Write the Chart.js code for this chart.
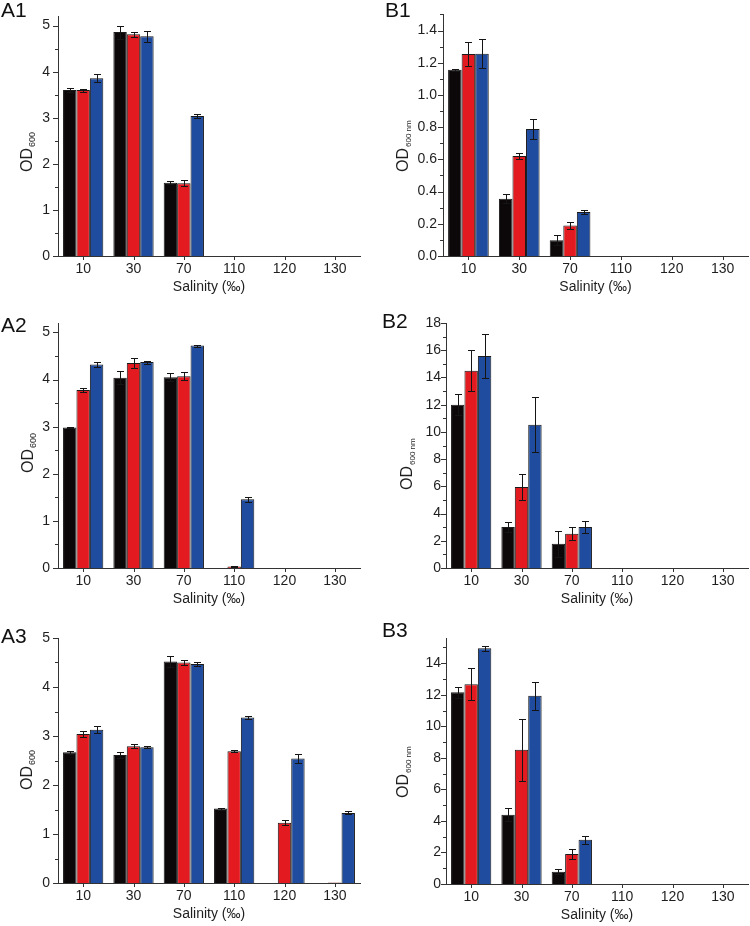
<!DOCTYPE html>
<html><head><meta charset="utf-8">
<script src="https://cdn.jsdelivr.net/npm/chart.js@4/dist/chart.umd.min.js"></script>
<style>
html,body{margin:0;padding:0;background:#fff;}
#page{position:relative;width:750px;height:926px;overflow:hidden;font-family:"Liberation Sans",Arial,sans-serif;}
.panel{position:absolute;}
.panel canvas{display:block;}
.lbl{position:absolute;font-size:21px;line-height:21px;color:#111;white-space:nowrap;}
</style></head><body>
<div id="page">
  <div class="lbl" style="left:1px;top:-1px">A1</div>
  <div class="lbl" style="left:385px;top:-1px">B1</div>
  <div class="lbl" style="left:1px;top:314px">A2</div>
  <div class="lbl" style="left:382px;top:310px">B2</div>
  <div class="lbl" style="left:1px;top:625px">A3</div>
  <div class="lbl" style="left:382px;top:619px">B3</div>
</div>
<script>
// ---- categories (x tick labels) ----
const salinity = ['10', '30', '70', '110', '120', '130'];
const seriesNames = ['Series 1', 'Series 2', 'Series 3'];

// ---- A1 ----
const a1Black = [3.60, 4.86, 1.59, 0, 0, 0];
const a1BlackErr = [0.05, 0.14, 0.03, 0, 0, 0];
const a1Red = [3.60, 4.81, 1.58, 0, 0, 0];
const a1RedErr = [0.03, 0.06, 0.06, 0, 0, 0];
const a1Blue = [3.86, 4.77, 3.04, 0, 0, 0];
const a1BlueErr = [0.08, 0.12, 0.04, 0, 0, 0];

// ---- B1 ----
const b1Black = [1.156, 0.356, 0.098, 0, 0, 0];
const b1BlackErr = [0.005, 0.027, 0.03, 0, 0, 0];
const b1Red = [1.254, 0.621, 0.189, 0, 0, 0];
const b1RedErr = [0.075, 0.017, 0.024, 0, 0, 0];
const b1Blue = [1.256, 0.788, 0.273, 0, 0, 0];
const b1BlueErr = [0.09, 0.063, 0.012, 0, 0, 0];

// ---- A2 ----
const a2Black = [2.98, 4.04, 4.05, 0, 0, 0];
const a2BlackErr = [0.01, 0.14, 0.09, 0, 0, 0];
const a2Red = [3.78, 4.35, 4.07, 0.03, 0, 0];
const a2RedErr = [0.04, 0.10, 0.08, 0.01, 0, 0];
const a2Blue = [4.32, 4.37, 4.72, 1.46, 0, 0];
const a2BlueErr = [0.06, 0.03, 0.02, 0.05, 0, 0];

// ---- B2 ----
const b2Black = [12.0, 3.01, 1.79, 0, 0, 0];
const b2BlackErr = [0.78, 0.34, 0.95, 0, 0, 0];
const b2Red = [14.5, 5.95, 2.52, 0, 0, 0];
const b2RedErr = [1.5, 0.98, 0.49, 0, 0, 0];
const b2Blue = [15.58, 10.53, 3.01, 0, 0, 0];
const b2BlueErr = [1.62, 2.03, 0.47, 0, 0, 0];

// ---- A3 ----
const a3Black = [2.67, 2.61, 4.52, 1.52, 0, 0];
const a3BlackErr = [0.03, 0.06, 0.12, 0.02, 0, 0];
const a3Red = [3.04, 2.79, 4.50, 2.69, 1.23, 0.01];
const a3RedErr = [0.07, 0.04, 0.05, 0.02, 0.05, 0];
const a3Blue = [3.13, 2.77, 4.47, 3.38, 2.54, 1.43];
const a3BlueErr = [0.07, 0.02, 0.05, 0.03, 0.09, 0.03];

// ---- B3 ----
const b3Black = [12.16, 4.39, 0.78, 0, 0, 0];
const b3BlackErr = [0.36, 0.42, 0.14, 0, 0, 0];
const b3Red = [12.67, 8.51, 1.90, 0, 0, 0];
const b3RedErr = [1.0, 1.97, 0.33, 0, 0, 0];
const b3Blue = [14.95, 11.93, 2.81, 0, 0, 0];
const b3BlueErr = [0.15, 0.88, 0.25, 0, 0, 0];

// ---- axis ranges ----
const yAxisA1 = {max: 5.2, step: 1, minor: 0.5, dec: 0};
const yAxisB1 = {max: 1.5, step: 0.2, minor: 0.1, dec: 1};
const yAxisA2 = {max: 5.2, step: 1, minor: 0.5, dec: 0};
const yAxisB2 = {max: 18, step: 2, minor: 1, dec: 0};
const yAxisA3 = {max: 5, step: 1, minor: 0.5, dec: 0};
const yAxisB3 = {max: 15.6, step: 2, minor: 1, dec: 0};

const xTitle = 'Salinity (‰)';
const yTitleMain = 'OD';

const COLORS = ['#0c0708', '#e31a1f', '#1f4c9e'];
const TEXT = '#1e1e1e';
const FONT = '"Liberation Sans", Arial, sans-serif';
Chart.defaults.font.family = FONT;
Chart.defaults.color = TEXT;

const panels = [
  {box: [0, 0, 375, 300], area: [58, 360, 12, 256], axis: yAxisA1, tpad: 8,
   vals: [a1Black, a1Red, a1Blue], errs: [a1BlackErr, a1RedErr, a1BlueErr],
   yt: {x: 32, y: 172, sub: '600', subSize: 9}},
  {box: [375, 0, 375, 300], area: [443, 748, 12, 256], axis: yAxisB1, tpad: 6,
   vals: [b1Black, b1Red, b1Blue], errs: [b1BlackErr, b1RedErr, b1BlueErr],
   yt: {x: 408, y: 172, sub: '600 nm', subSize: 8}},
  {box: [0, 300, 375, 310], area: [58, 360, 323, 568], axis: yAxisA2, tpad: 8,
   vals: [a2Black, a2Red, a2Blue], errs: [a2BlackErr, a2RedErr, a2BlueErr],
   yt: {x: 33, y: 473, sub: '600', subSize: 9}},
  {box: [375, 300, 375, 310], area: [446, 748, 323, 568], axis: yAxisB2, tpad: 5,
   vals: [b2Black, b2Red, b2Blue], errs: [b2BlackErr, b2RedErr, b2BlueErr],
   yt: {x: 412, y: 490, sub: '600 nm', subSize: 8}},
  {box: [0, 610, 375, 316], area: [58, 360, 638, 883], axis: yAxisA3, tpad: 8,
   vals: [a3Black, a3Red, a3Blue], errs: [a3BlackErr, a3RedErr, a3BlueErr],
   yt: {x: 32, y: 790, sub: '600', subSize: 9}},
  {box: [375, 610, 375, 316], area: [446, 748, 638, 884], axis: yAxisB3, tpad: 5,
   vals: [b3Black, b3Red, b3Blue], errs: [b3BlackErr, b3RedErr, b3BlueErr],
   yt: {x: 408, y: 798, sub: '600 nm', subSize: 8}}
];

const XAXIS_H = 40;

const extras = {
  id: 'extras',
  afterDatasetsDraw(chart) {
    const ctx = chart.ctx, ys = chart.scales.y;
    chart.data.datasets.forEach((ds, di) => {
      const meta = chart.getDatasetMeta(di);
      meta.data.forEach((bar, i) => {
        const v = ds.data[i], e = ds.errors[i];
        if (!e) return;
        const yt = Math.round(ys.getPixelForValue(v + e)) + 0.5;
        const yb = Math.round(ys.getPixelForValue(Math.max(v - e, 0))) + 0.5;
        const bx = Math.round(bar.x) + 0.5;
        ctx.save();
        ctx.strokeStyle = '#151515';
        ctx.lineWidth = 1;
        ctx.beginPath();
        ctx.moveTo(bx, yt); ctx.lineTo(bx, yb);
        ctx.moveTo(bx - 3.5, yt); ctx.lineTo(bx + 3.5, yt);
        ctx.moveTo(bx - 3.5, yb); ctx.lineTo(bx + 3.5, yb);
        ctx.stroke();
        ctx.restore();
      });
    });
  },
  afterDraw(chart, args, opts) {
    const ctx = chart.ctx, ys = chart.scales.y, xs = chart.scales.x;
    const ax = opts.axis, a = chart.chartArea;
    ctx.save();
    ctx.strokeStyle = '#333';
    ctx.lineWidth = 1;
    ctx.beginPath();
    const n = Math.round(ax.max / ax.minor + 1e-6);
    const ratio = Math.round(ax.step / ax.minor);
    for (let k = 0; k <= n; k++) {
      const v = k * ax.minor;
      if (v > ax.max + 1e-9) break;
      const py = Math.round(ys.getPixelForValue(v)) + 0.5;
      const len = (k % ratio === 0) ? 5 : 3;
      ctx.moveTo(a.left - len, py); ctx.lineTo(a.left, py);
    }
    for (let i = 0; i < xs.ticks.length; i++) {
      const px = Math.round(xs.getPixelForTick(i)) + 0.5;
      ctx.moveTo(px, a.bottom); ctx.lineTo(px, a.bottom + 4);
    }
    ctx.stroke();
    // y axis title with subscript (position given in page coords)
    const t = opts.yt;
    ctx.translate(t.x - opts.ox, t.y - opts.oy);
    ctx.rotate(-Math.PI / 2);
    ctx.fillStyle = TEXT;
    ctx.textBaseline = 'alphabetic';
    ctx.textAlign = 'left';
    ctx.font = '16px ' + FONT;
    ctx.fillText(yTitleMain, 0, 0);
    const w = ctx.measureText(yTitleMain).width;
    ctx.font = t.subSize + 'px ' + FONT;
    ctx.fillText(t.sub, w + 1, 3);
    ctx.restore();
  }
};

panels.forEach((p) => {
  const [bx, by, bw, bh] = p.box;
  const [l, r, t, b] = p.area;
  const div = document.createElement('div');
  div.className = 'panel';
  div.style.left = bx + 'px';
  div.style.top = by + 'px';
  div.style.width = bw + 'px';
  div.style.height = bh + 'px';
  const cv = document.createElement('canvas');
  cv.width = bw; cv.height = bh;
  cv.style.width = bw + 'px'; cv.style.height = bh + 'px';
  div.appendChild(cv);
  document.getElementById('page').insertBefore(div, document.getElementById('page').firstChild);
  const yWidth = l - bx;
  const padTop = t - by;
  const padRight = bx + bw - r;
  const padBottom = by + bh - (b + XAXIS_H);
  const ax = p.axis;
  new Chart(cv, {
    type: 'bar',
    data: {
      labels: salinity,
      datasets: p.vals.map((vals, i) => ({
        label: seriesNames[i],
        data: vals,
        errors: p.errs[i],
        backgroundColor: COLORS[i],
        borderColor: '#1a1a1a',
        borderWidth: 1,
        categoryPercentage: 0.8,
        barPercentage: 1.0
      }))
    },
    options: {
      responsive: false,
      animation: false,
      devicePixelRatio: 1,
      layout: {padding: {left: 0, top: padTop, right: padRight, bottom: padBottom}},
      plugins: {
        legend: {display: false},
        tooltip: {enabled: false},
        extras: {axis: ax, yt: p.yt, ox: bx, oy: by}
      },
      scales: {
        x: {
          type: 'category',
          offset: true,
          grid: {display: false, drawTicks: false},
          border: {display: true, color: '#333', width: 1},
          ticks: {font: {size: 14}, color: TEXT, padding: 5, autoSkip: false, maxRotation: 0},
          title: {display: true, text: xTitle, font: {size: 14}, color: TEXT, padding: {top: 0, bottom: 0}},
          afterFit(s) { s.height = XAXIS_H; }
        },
        y: {
          min: 0,
          max: ax.max,
          grid: {display: false, drawTicks: false},
          border: {display: true, color: '#333', width: 1},
          ticks: {
            stepSize: ax.step,
            includeBounds: false,
            font: {size: 14},
            color: TEXT,
            padding: p.tpad,
            callback: (v) => Number(v).toFixed(ax.dec)
          },
          afterFit(s) { s.width = yWidth; }
        }
      }
    },
    plugins: [extras]
  });
});
</script>
</body></html>
